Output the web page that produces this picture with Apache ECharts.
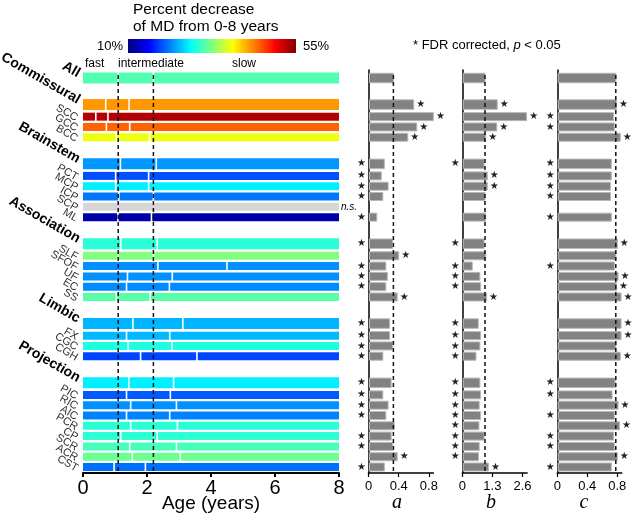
<!DOCTYPE html>
<html><head><meta charset="utf-8">
<script src="https://cdn.jsdelivr.net/npm/echarts@6/dist/echarts.min.js"></script>
<style>html,body{margin:0;padding:0;background:#fff}#c{width:633px;height:515px}</style>
</head><body><div id="c"></div>
<script>
// ---------- data ----------
const groupNames = ['All', 'Commissural', 'Brainstem', 'Association', 'Limbic', 'Projection'];
const groupMembers = [
  [],
  ['SCC', 'GCC', 'BCC'],
  ['PCT', 'MCP', 'ICP', 'SCP', 'ML'],
  ['SLF', 'SFOF', 'UF', 'EC', 'SS'],
  ['FX', 'CGC', 'CGH'],
  ['PIC', 'RIC', 'AIC', 'PCR', 'CP', 'SCR', 'ACR', 'CST']
];
// row order: All, Commissural, SCC, GCC, BCC, Brainstem, PCT, MCP, ICP, SCP, ML,
// Association, SLF, SFOF, UF, EC, SS, Limbic, FX, CGC, CGH,
// Projection, PIC, RIC, AIC, PCR, CP, SCR, ACR, CST
const pctDecrease = [30.4, 42.7, 52.7, 45.0, 37.4, 22.3, 19.1, 26.2, 20.9, null, 11.9,
  28.7, 32.6, 22.0, 22.0, 21.8, 30.8, 23.6, 23.8, 28.2, 18.7,
  26.2, 19.6, 22.0, 21.4, 28.7, 28.8, 29.9, 31.7, 20.5];
const fastEnd = [1.1, 0.71, 0.40, 0.73, 1.04, 1.17, 1.02, 1.02, 1.12, null, 1.09,
  1.18, 1.1, 2.34, 1.39, 1.36, 1.04, 1.56, 1.36, 1.41, 1.80,
  1.43, 1.36, 1.49, 1.36, 1.49, 1.18, 1.46, 1.54, 0.97];
const intermEnd = [2.2, 1.44, 0.78, 1.46, 2.08, 2.29, 2.05, 2.05, 2.2, null, 2.14,
  2.32, 2.2, 4.5, 2.79, 2.70, 2.10, 3.12, 2.71, 2.78, 3.56,
  2.83, 2.73, 2.92, 2.71, 2.95, 2.32, 2.92, 3.04, 1.95];
const valA = [0.33, 0.60, 0.86, 0.64, 0.52, 0.21, 0.17, 0.26, 0.19, null, 0.11,
  0.32, 0.40, 0.23, 0.25, 0.23, 0.38, 0.28, 0.28, 0.32, 0.19,
  0.30, 0.19, 0.26, 0.23, 0.34, 0.30, 0.32, 0.38, 0.21];
const sigA = [0, 1, 1, 1, 1, 1, 1, 1, 1, 0, 1,
  1, 1, 1, 1, 1, 1, 1, 1, 1, 1,
  1, 1, 1, 1, 0, 1, 1, 1, 1];
const valB = [0.98, 1.51, 2.78, 1.49, 1.01, 0.94, 1.08, 1.08, 0.98, null, 1.01,
  0.94, 1.01, 0.43, 0.76, 0.79, 1.05, 0.69, 0.79, 0.76, 0.59,
  0.76, 0.79, 0.73, 0.79, 0.72, 0.94, 0.73, 0.70, 1.13];
const sigB = [0, 1, 1, 1, 1, 1, 1, 1, 0, 0, 0,
  1, 0, 1, 1, 1, 1, 1, 1, 1, 1,
  1, 1, 1, 1, 1, 1, 1, 1, 1];
const valC = [0.78, 0.79, 0.75, 0.76, 0.84, 0.72, 0.72, 0.71, 0.71, null, 0.72,
  0.80, 0.78, 0.76, 0.81, 0.79, 0.85, 0.85, 0.85, 0.78, 0.84,
  0.77, 0.73, 0.81, 0.76, 0.83, 0.75, 0.76, 0.80, 0.72];
const sigC = [0, 1, 1, 1, 1, 1, 1, 1, 1, 0, 1,
  1, 0, 1, 1, 1, 1, 1, 1, 0, 1,
  1, 1, 1, 1, 1, 1, 1, 1, 1];
const ageTicks = [0, 2, 4, 6, 8];
const ticksA = [0, 0.4, 0.8];
const ticksB = [0, 1.3, 2.6];
const ticksC = [0, 0.4, 0.8];
const phaseNames = ['fast', 'intermediate', 'slow'];
const colorbarRange = [10, 55];

// ---------- layout of rows (slot units) ----------
const rows = [];
let pos = 0;
groupNames.forEach((g, gi) => {
  if (gi > 0) pos += 2.58;
  rows.push({ name: g, group: true, pos });
  groupMembers[gi].forEach((m, mi) => {
    pos += (mi === 0 ? 1.17 : 1.0);
    rows.push({ name: m, group: false, pos });
  });
});
const Y_MIN = -0.777, Y_MAX = 38.33;
const SANS = '"Liberation Sans", Arial, sans-serif';

function jet(p) {
  const t = (p - colorbarRange[0]) / (colorbarRange[1] - colorbarRange[0]);
  const c = v => Math.round(255 * Math.max(0, Math.min(1, v)));
  return 'rgb(' + c(1.5 - Math.abs(4 * t - 3)) + ',' + c(1.5 - Math.abs(4 * t - 2)) + ',' + c(1.5 - Math.abs(4 * t - 1)) + ')';
}

function renderLeft(params, api) {
  const i = params.dataIndex, r = rows[i], y = r.pos;
  const h = r.group ? 11 : 8;
  const segs = fastEnd[i] == null ? [[0, 8]] :
    [[0, fastEnd[i]], [fastEnd[i], intermEnd[i]], [intermEnd[i], 8]];
  const color = pctDecrease[i] == null ? '#d6d6d6' : jet(pctDecrease[i]);
  const children = segs.map((s, k) => {
    const p0 = api.coord([s[0], y]), p1 = api.coord([s[1], y]);
    const x0 = p0[0] + (k > 0 ? 0.8 : 0), x1 = p1[0] - (k < segs.length - 1 ? 0.8 : 0);
    return { type: 'rect', shape: { x: x0, y: p0[1] - h / 2, width: x1 - x0, height: h }, style: { fill: color } };
  });
  const a = api.coord([0, y]);
  children.push({
    type: 'text', x: a[0] - (r.group ? 4 : 6), y: a[1] + (r.group ? -4 : 2), rotation: -Math.PI / 6,
    style: { text: r.name, align: 'right', verticalAlign: 'middle',
      font: (r.group ? 'bold 14px ' : '11px ') + SANS, fill: r.group ? '#000' : '#333' }
  });
  if (pctDecrease[i] == null) {
    const e = api.coord([8, y]);
    children.push({ type: 'text', x: e[0] + 2, y: e[1],
      style: { text: 'n.s.', align: 'left', verticalAlign: 'middle', font: 'italic 10px ' + SANS, fill: '#000' } });
  }
  return { type: 'group', children };
}

function makeRight(vals, sigs) {
  const allVal = vals[0];
  return function (params, api) {
    const i = params.dataIndex, v = vals[i];
    if (v == null) return null;
    const y = rows[i].pos, h = rows[i].group ? 9.5 : 8;
    const p0 = api.coord([0, y]), p1 = api.coord([v, y]);
    const ch = [{ type: 'rect', shape: { x: p0[0] + 1, y: p0[1] - h / 2, width: p1[0] - p0[0] - 1, height: h },
      style: { fill: '#828282', stroke: '#b8b8b8', lineWidth: 1 } }];
    if (sigs[i]) {
      const sx = v > allVal ? p1[0] + 7 : p0[0] - 7;
      ch.push({ type: 'text', x: sx, y: p0[1],
        style: { text: '★', align: 'center', verticalAlign: 'middle', font: '10px "DejaVu Sans"', fill: '#222' } });
    }
    return { type: 'group', children: ch };
  };
}

const grids = [
  { left: 83, top: 70, width: 256, height: 403, outerBoundsMode: 'none', containLabel: false },
  { left: 368.5, top: 70, width: 64.9, height: 403, outerBoundsMode: 'none', containLabel: false },
  { left: 462.3, top: 70, width: 64.8, height: 403, outerBoundsMode: 'none', containLabel: false },
  { left: 557.3, top: 70, width: 64.5, height: 403, outerBoundsMode: 'none', containLabel: false }
];
function yAx(gi, line) {
  return { type: 'value', gridIndex: gi, inverse: true, min: Y_MIN, max: Y_MAX,
    axisLine: { show: line, onZero: false, lineStyle: { color: '#000', width: 1.5 } },
    axisTick: { show: false }, axisLabel: { show: false }, splitLine: { show: false } };
}
function xAx(gi, max, ticks, fs) {
  return { type: 'value', gridIndex: gi, min: 0, max: max,
    axisLine: { show: true, onZero: false, lineStyle: { color: '#000', width: gi === 0 ? 2 : 1.5 } },
    axisTick: { show: true, length: 4, customValues: ticks, lineStyle: { color: '#000', width: gi === 0 ? 2 : 1.2 } },
    axisLabel: { customValues: ticks, color: '#000', fontSize: fs, fontFamily: SANS, margin: gi === 0 ? 5 : 7 },
    splitLine: { show: false } };
}
const xAxes = [xAx(0, 8, ageTicks, 20), xAx(1, 0.86, ticksA, 13), xAx(2, 2.8, ticksB, 13), xAx(3, 0.86, ticksC, 13)];
xAxes[0].name = 'Age (years)';
xAxes[0].nameLocation = 'middle';
xAxes[0].nameGap = 21;
xAxes[0].nameMoveOverlap = false;
xAxes[0].nameTextStyle = { fontSize: 19, color: '#000', fontFamily: SANS };

const rowData = rows.map((r, i) => [0, r.pos, i]);
function dashed(gi, x) {
  return { type: 'line', xAxisIndex: gi, yAxisIndex: gi, z: 5, symbol: 'none', silent: true,
    data: [[x, -0.3], [x, Y_MAX]], lineStyle: { color: '#111', width: 1.5, type: [4, 3] } };
}
const series = [
  { type: 'custom', xAxisIndex: 0, yAxisIndex: 0, renderItem: renderLeft, data: rowData, encode: { x: 0, y: 1 }, z: 2 },
  { type: 'custom', xAxisIndex: 1, yAxisIndex: 1, renderItem: makeRight(valA, sigA), data: rowData, encode: { x: 0, y: 1 }, z: 2 },
  { type: 'custom', xAxisIndex: 2, yAxisIndex: 2, renderItem: makeRight(valB, sigB), data: rowData, encode: { x: 0, y: 1 }, z: 2 },
  { type: 'custom', xAxisIndex: 3, yAxisIndex: 3, renderItem: makeRight(valC, sigC), data: rowData, encode: { x: 0, y: 1 }, z: 2 },
  dashed(0, fastEnd[0]), dashed(0, intermEnd[0]),
  dashed(1, valA[0]), dashed(2, valB[0]), dashed(3, valC[0])
];

const stops = [];
for (let k = 0; k <= 16; k++) stops.push({ offset: k / 16, color: jet(colorbarRange[0] + (colorbarRange[1] - colorbarRange[0]) * k / 16) });

const txt = (x, y, text, font, align, extra) => Object.assign({ type: 'text', x, y,
  style: { text, font, fill: '#000', align: align || 'left', verticalAlign: 'middle' } }, extra || {});

const graphic = [
  txt(133, 10, 'Percent decrease', '15.5px ' + SANS),
  txt(133, 27, 'of MD from 0-8 years', '15.5px ' + SANS),
  { type: 'rect', shape: { x: 128, y: 39, width: 168, height: 14 },
    style: { fill: new echarts.graphic.LinearGradient(0, 0, 1, 0, stops) } },
  txt(123, 46, colorbarRange[0] + '%', '13px ' + SANS, 'right'),
  txt(303, 46, colorbarRange[1] + '%', '13px ' + SANS, 'left'),
  txt(85, 64, phaseNames[0], '12px ' + SANS),
  txt(118, 64, phaseNames[1], '12px ' + SANS),
  txt(232, 64, phaseNames[2], '12px ' + SANS),
  { type: 'text', x: 413, y: 45, style: { rich: { n: { font: '13px ' + SANS, fill: '#000' }, i: { font: 'italic 13px ' + SANS, fill: '#000' } },
      text: '{n|* FDR corrected, }{i|p}{n| < 0.05}', verticalAlign: 'middle' } },
  txt(397, 503, 'a', 'italic 20px "Liberation Serif", serif', 'center'),
  txt(491, 503, 'b', 'italic 20px "Liberation Serif", serif', 'center'),
  txt(584, 503, 'c', 'italic 20px "Liberation Serif", serif', 'center')
];

const chart = echarts.init(document.getElementById('c'), null, { renderer: 'canvas' });
chart.setOption({
  animation: false,
  backgroundColor: '#fff',
  grid: grids,
  xAxis: xAxes,
  yAxis: [yAx(0, false), yAx(1, true), yAx(2, true), yAx(3, true)],
  series,
  graphic
});
</script>
</body></html>
